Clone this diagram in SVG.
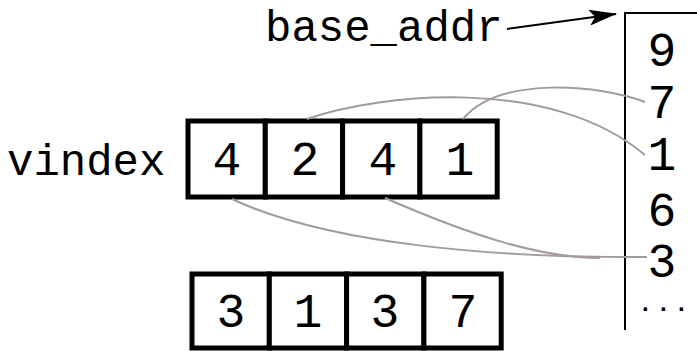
<svg xmlns="http://www.w3.org/2000/svg" width="697" height="351" viewBox="0 0 697 351">
<style>
.t{font-family:"Liberation Mono","DejaVu Sans Mono",monospace;font-size:44px;fill:#000}
.d{font-size:48px}
.m{text-anchor:middle}
.cell{fill:#fff;stroke:#000;stroke-width:5}
.ln{fill:none;stroke:#000;stroke-width:2}
.c{fill:none;stroke:#a39b9b;stroke-width:2}
</style>
<defs>
<marker id="ah" markerWidth="28" markerHeight="16" refX="27" refY="8" orient="auto" markerUnits="userSpaceOnUse" viewBox="0 0 28 16">
<path d="M0,0 L28,8 L0,16 L6,8 Z" fill="#000"/>
</marker>
</defs>
<rect width="697" height="351" fill="#fff"/>
<g id="label-base">
<text class="t" x="265" y="41">base_addr</text>
</g>
<g id="label-vindex">
<text class="t" x="7" y="175">vindex</text>
</g>
<g id="memory">
<path class="ln" d="M697,13 L625,13 L625,330"/>
<text class="t d m" x="662" y="66">9</text>
<text class="t d m" x="662" y="118">7</text>
<text class="t d m" x="662" y="170">1</text>
<text class="t d m" x="662" y="226">6</text>
<text class="t d m" x="662" y="277">3</text>
<text x="642" y="311" style="font-family:'Liberation Sans',sans-serif;font-size:24px;font-weight:bold;letter-spacing:11.3px">...</text>
</g>
<g id="vindex">
<rect class="cell" x="188" y="121" width="77.3" height="76"/>
<rect class="cell" x="265.3" y="121" width="77.3" height="76"/>
<rect class="cell" x="342.6" y="121" width="77.3" height="76"/>
<rect class="cell" x="419.9" y="121" width="77.3" height="76"/>
<text class="t d m" x="227" y="175">4</text>
<text class="t d m" x="305" y="175">2</text>
<text class="t d m" x="383" y="175">4</text>
<text class="t d m" x="460" y="175">1</text>
</g>
<g id="result">
<rect class="cell" x="192" y="274" width="77.3" height="74"/>
<rect class="cell" x="269.3" y="274" width="77.3" height="74"/>
<rect class="cell" x="346.6" y="274" width="77.3" height="74"/>
<rect class="cell" x="423.9" y="274" width="77.3" height="74"/>
<text class="t d m" x="231" y="327">3</text>
<text class="t d m" x="308" y="327">1</text>
<text class="t d m" x="385" y="327">3</text>
<text class="t d m" x="463" y="327">7</text>
</g>
<g id="connectors">
<path class="ln" d="M507,29 L616,14" marker-end="url(#ah)"/>
<path class="c" d="M307,119 C380,94 550,75 645,155"/>
<path class="c" d="M463,119 C500,75 600,85 645,102"/>
<path class="c" d="M232,199 C330,245 500,258 647,257"/>
<path class="c" d="M385,198 C470,235 540,258 600,258"/>
</g>
</svg>
